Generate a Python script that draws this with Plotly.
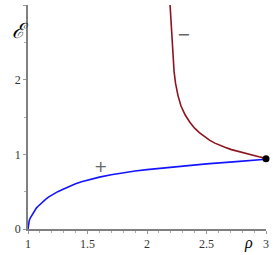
import plotly.graph_objects as go

rho_plus = [1.0, 1.002, 1.006, 1.01, 1.02, 1.03, 1.04, 1.055, 1.07, 1.085, 1.1, 1.125, 1.15, 1.175, 1.2, 1.25, 1.3, 1.35, 1.4, 1.45, 1.5, 1.6, 1.7, 1.8, 1.9, 2.0, 2.25, 2.5, 2.75, 3.0]
E_plus = [0.0, 0.05, 0.085, 0.11, 0.15, 0.18, 0.21, 0.245, 0.28, 0.305, 0.33, 0.365, 0.40, 0.43, 0.455, 0.50, 0.535, 0.572, 0.605, 0.632, 0.655, 0.695, 0.727, 0.755, 0.777, 0.795, 0.835, 0.872, 0.903, 0.935]

rho_minus = [2.193, 2.197, 2.201, 2.206, 2.212, 2.22, 2.228, 2.24, 2.26, 2.285, 2.32, 2.36, 2.40, 2.44, 2.48, 2.525, 2.57, 2.615, 2.66, 2.71, 2.76, 2.82, 2.88, 2.94, 3.0]
E_minus = [3.02, 2.90, 2.80, 2.60, 2.41, 2.25, 2.10, 1.95, 1.79, 1.65, 1.53, 1.43, 1.35, 1.29, 1.24, 1.19, 1.15, 1.118, 1.09, 1.063, 1.04, 1.015, 0.99, 0.967, 0.945]

end_rho = [3.0]
end_E = [0.94]

x_ticks = [1, 1.5, 2, 2.5, 3]
x_tick_labels = ["1", "1.5", "2", "2.5", "3"]
y_ticks = [0, 1, 2, 3]
y_tick_labels = ["0", "1", "2", "3"]

serif = "Liberation Serif, Times New Roman, serif"

fig = go.Figure()
fig.add_trace(go.Scatter(x=rho_plus, y=E_plus, mode="lines",
                         line=dict(color="rgb(20,20,255)", width=1.6),
                         showlegend=False, cliponaxis=False))
fig.add_trace(go.Scatter(x=rho_minus, y=E_minus, mode="lines",
                         line=dict(color="rgb(140,20,30)", width=1.6),
                         showlegend=False))
fig.add_trace(go.Scatter(x=end_rho, y=end_E, mode="markers",
                         marker=dict(color="black", size=7),
                         showlegend=False, cliponaxis=False))

fig.add_annotation(x=1.61, y=0.84, text="+", showarrow=False,
                   font=dict(family="DejaVu Sans", size=16, color="#666"))
fig.add_annotation(x=2.31, y=2.6, text="\u2212", showarrow=False,
                   font=dict(family="DejaVu Sans", size=16, color="#666"))
fig.add_annotation(x=0, y=1, xref="paper", yref="paper", xshift=-18, yshift=-12,
                   text="<i>\u2130</i>", showarrow=False,
                   font=dict(family=serif, size=21, color="black"))
fig.add_annotation(x=2.85, y=0, yref="y", yshift=-14, text="<i>\u03c1</i>", showarrow=False,
                   font=dict(family=serif, size=16, color="black"))

axis_common = dict(showgrid=False, zeroline=False, showline=True, linecolor="#808080",
                   linewidth=1.5, ticks="outside", ticklen=3, tickcolor="#999",
                   tickfont=dict(family=serif, size=12, color="#333"))

fig.update_xaxes(range=[1, 3], tickvals=x_ticks, ticktext=x_tick_labels,
                 minor=dict(dtick=0.1, ticklen=2, tickcolor="#aaa", ticks="outside"),
                 **axis_common)
fig.update_yaxes(range=[0, 3], tickvals=y_ticks, ticktext=y_tick_labels,
                 minor=dict(dtick=0.5, ticklen=2, tickcolor="#aaa", ticks="outside"),
                 **axis_common)

fig.update_layout(width=273, height=255, margin=dict(l=28, r=4, t=5, b=23),
                  plot_bgcolor="white", paper_bgcolor="white", font=dict(family=serif))

fig.write_html("out.html", config={"displayModeBar": False},
               post_script="document.body.style.margin='0';document.body.style.overflow='hidden';")
